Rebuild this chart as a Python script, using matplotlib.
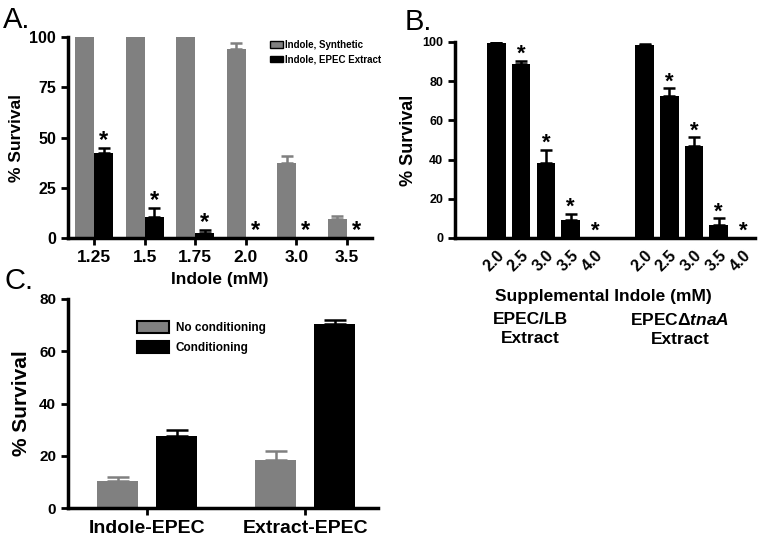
import numpy as np
import matplotlib
matplotlib.use('Agg')
import matplotlib.pyplot as plt
from matplotlib.patches import Patch

plt.rcParams['font.family'] = ['Liberation Sans', 'DejaVu Sans']
plt.rcParams['font.weight'] = 'bold'
plt.rcParams['axes.labelweight'] = 'bold'
plt.rcParams['mathtext.fontset'] = 'custom'
plt.rcParams['mathtext.it'] = 'Liberation Sans:italic:bold'

GRAY = '#808080'

# Panel A data
a_labels = ['1.25', '1.5', '1.75', '2.0', '3.0', '3.5']
a_synth = [100, 100, 100, 94, 37.5, 9.5]
a_synth_err = [0, 0, 0, 3, 3.5, 1.5]
a_extract = [42.5, 10.5, 2.5, 0, 0, 0]
a_extract_err = [2.5, 4.5, 1.5, 0, 0, 0]
a_star = [True, True, True, True, True, True]

# Panel B data
b_labels = ['2.0', '2.5', '3.0', '3.5', '4.0']
b_lb = [99.5, 89, 38.5, 9, 0]
b_lb_err = [0.5, 1.5, 6.5, 3.5, 0]
b_tna = [98.5, 72.5, 47, 6.5, 0]
b_tna_err = [0.5, 4, 4.5, 3.5, 0]
b_star = [False, True, True, True, True]

# Panel C data
c_labels = ['Indole-EPEC', 'Extract-EPEC']
c_nocond = [10.5, 18.5]
c_nocond_err = [1.5, 3.5]
c_cond = [27.5, 70.5]
c_cond_err = [2.5, 1.5]

fig = plt.figure(figsize=(7.6, 5.4), dpi=100)
W, H = 760, 540


def axes_px(x0, x1, ytop, ybot):
    return fig.add_axes([x0 / W, 1 - ybot / H, (x1 - x0) / W, (ybot - ytop) / H])


def style(ax):
    for s in ['top', 'right']:
        ax.spines[s].set_visible(False)
    for s in ['left', 'bottom']:
        ax.spines[s].set_linewidth(2.5)
    ax.tick_params(width=2, length=5, direction='out')


def bold_ticks(ax):
    for lab in ax.get_xticklabels() + ax.get_yticklabels():
        lab.set_fontweight('bold')


def upper_err(ax, x, y, e, color, cap):
    ax.errorbar(x, y, yerr=[np.zeros(len(e)), e], fmt='none', ecolor=color,
                elinewidth=1.8, capsize=cap, capthick=1.8, zorder=3)


def stars(ax, x, top, show, size):
    for xi, ti, s in zip(x, top, show):
        if s:
            ax.annotate('*', (xi, ti), xytext=(0, -3), textcoords='offset points',
                        ha='center', va='bottom', fontsize=size, fontweight='bold')


# ---- A ----
axA = axes_px(68, 372, 37, 238)
style(axA)
xa = np.arange(len(a_labels))
w = 0.375
axA.bar(xa - w / 2, a_synth, w, color=GRAY, zorder=2)
axA.bar(xa + w / 2, a_extract, w, color='black', zorder=2)
upper_err(axA, xa - w / 2, a_synth, a_synth_err, GRAY, 4)
upper_err(axA, xa + w / 2, a_extract, a_extract_err, 'black', 4)
stars(axA, xa + w / 2, np.add(a_extract, a_extract_err), a_star, 17)
axA.set_xlim(-0.52, 5.5)
axA.set_ylim(0, 100)
axA.set_yticks([0, 25, 50, 75, 100])
axA.tick_params(axis='y', labelsize=11.5)
axA.set_xticks(xa)
axA.set_xticklabels(a_labels, fontsize=12.5)
bold_ticks(axA)
axA.set_ylabel('% Survival', fontsize=12.5, labelpad=4)
axA.set_xlabel('Indole (mM)', fontsize=12.5, labelpad=5)
axA.legend([Patch(facecolor=GRAY, edgecolor='black', linewidth=1),
            Patch(facecolor='black', edgecolor='black', linewidth=1)],
           ['Indole, Synthetic', 'Indole, EPEC Extract'],
           loc='upper left', bbox_to_anchor=(270 / W, 1 - 40 / H),
           bbox_transform=fig.transFigure, frameon=False,
           prop={'size': 7, 'weight': 'bold'},
           handlelength=1.35, handleheight=0.7, handletextpad=0.2,
           labelspacing=0.45, borderpad=0, borderaxespad=0)

# ---- B ----
axB = axes_px(455, 755, 42, 238)
style(axB)
xb = np.concatenate([np.arange(5), np.arange(5) + 6])
vb = b_lb + b_tna
eb = b_lb_err + b_tna_err
axB.bar(xb, vb, 0.75, color='black', zorder=2)
upper_err(axB, xb, vb, eb, 'black', 4.5)
stars(axB, xb, np.add(vb, eb), b_star + b_star, 16)
axB.set_xlim(-1.68, 10.47)
axB.set_ylim(0, 100)
axB.set_yticks(np.arange(0, 101, 20))
axB.tick_params(axis='y', labelsize=9)
axB.set_xticks(xb)
axB.set_xticklabels(b_labels + b_labels, rotation=45, ha='right',
                    rotation_mode='anchor', fontsize=11.5)
axB.tick_params(axis='x', length=0, pad=7)
bold_ticks(axB)
axB.set_ylabel('% Survival', fontsize=13, labelpad=4)
axB.set_xlabel('Supplemental Indole (mM)', fontsize=12.5)
axB.xaxis.set_label_coords(0.493, -(289 - 238) / 196)
fig.text(530 / W, 1 - 312 / H, 'EPEC/LB\nExtract', ha='center', va='top',
         fontsize=12.5, fontweight='bold', linespacing=1.3)
fig.text(680 / W, 1 - 312 / H, 'EPEC\u0394$tnaA$\nExtract', ha='center', va='top',
         fontsize=12.5, fontweight='bold', linespacing=1.3)

# ---- C ----
axC = axes_px(68, 378, 299, 508)
style(axC)
xc = np.arange(len(c_labels))
off, wc = 0.187, 0.26
axC.bar(xc - off, c_nocond, wc, color=GRAY, zorder=2)
axC.bar(xc + off, c_cond, wc, color='black', zorder=2)
upper_err(axC, xc - off, c_nocond, c_nocond_err, GRAY, 8)
upper_err(axC, xc + off, c_cond, c_cond_err, 'black', 8)
axC.set_xlim(-0.5, 1.46)
axC.set_ylim(0, 80)
axC.set_yticks(np.arange(0, 81, 20))
axC.tick_params(axis='y', labelsize=11)
axC.set_xticks(xc)
axC.set_xticklabels(c_labels, fontsize=14)
bold_ticks(axC)
axC.set_ylabel('% Survival', fontsize=15, labelpad=6)
axC.legend([Patch(facecolor=GRAY, edgecolor='black', linewidth=1.5),
            Patch(facecolor='black', edgecolor='black', linewidth=1.5)],
           ['No conditioning', 'Conditioning'],
           loc='upper left', bbox_to_anchor=(137 / W, 1 - 321 / H),
           bbox_transform=fig.transFigure, frameon=False,
           prop={'size': 8.5, 'weight': 'bold'},
           handlelength=2.7, handleheight=1.2, handletextpad=0.6,
           labelspacing=0.55, borderpad=0, borderaxespad=0)

# panel letters
fig.text(3 / W, 1 - 28 / H, 'A.', fontsize=21, fontweight='normal')
fig.text(405 / W, 1 - 30 / H, 'B.', fontsize=21, fontweight='normal')
fig.text(5 / W, 1 - 289 / H, 'C.', fontsize=21, fontweight='normal')

fig.savefig('out.png', dpi=100)
